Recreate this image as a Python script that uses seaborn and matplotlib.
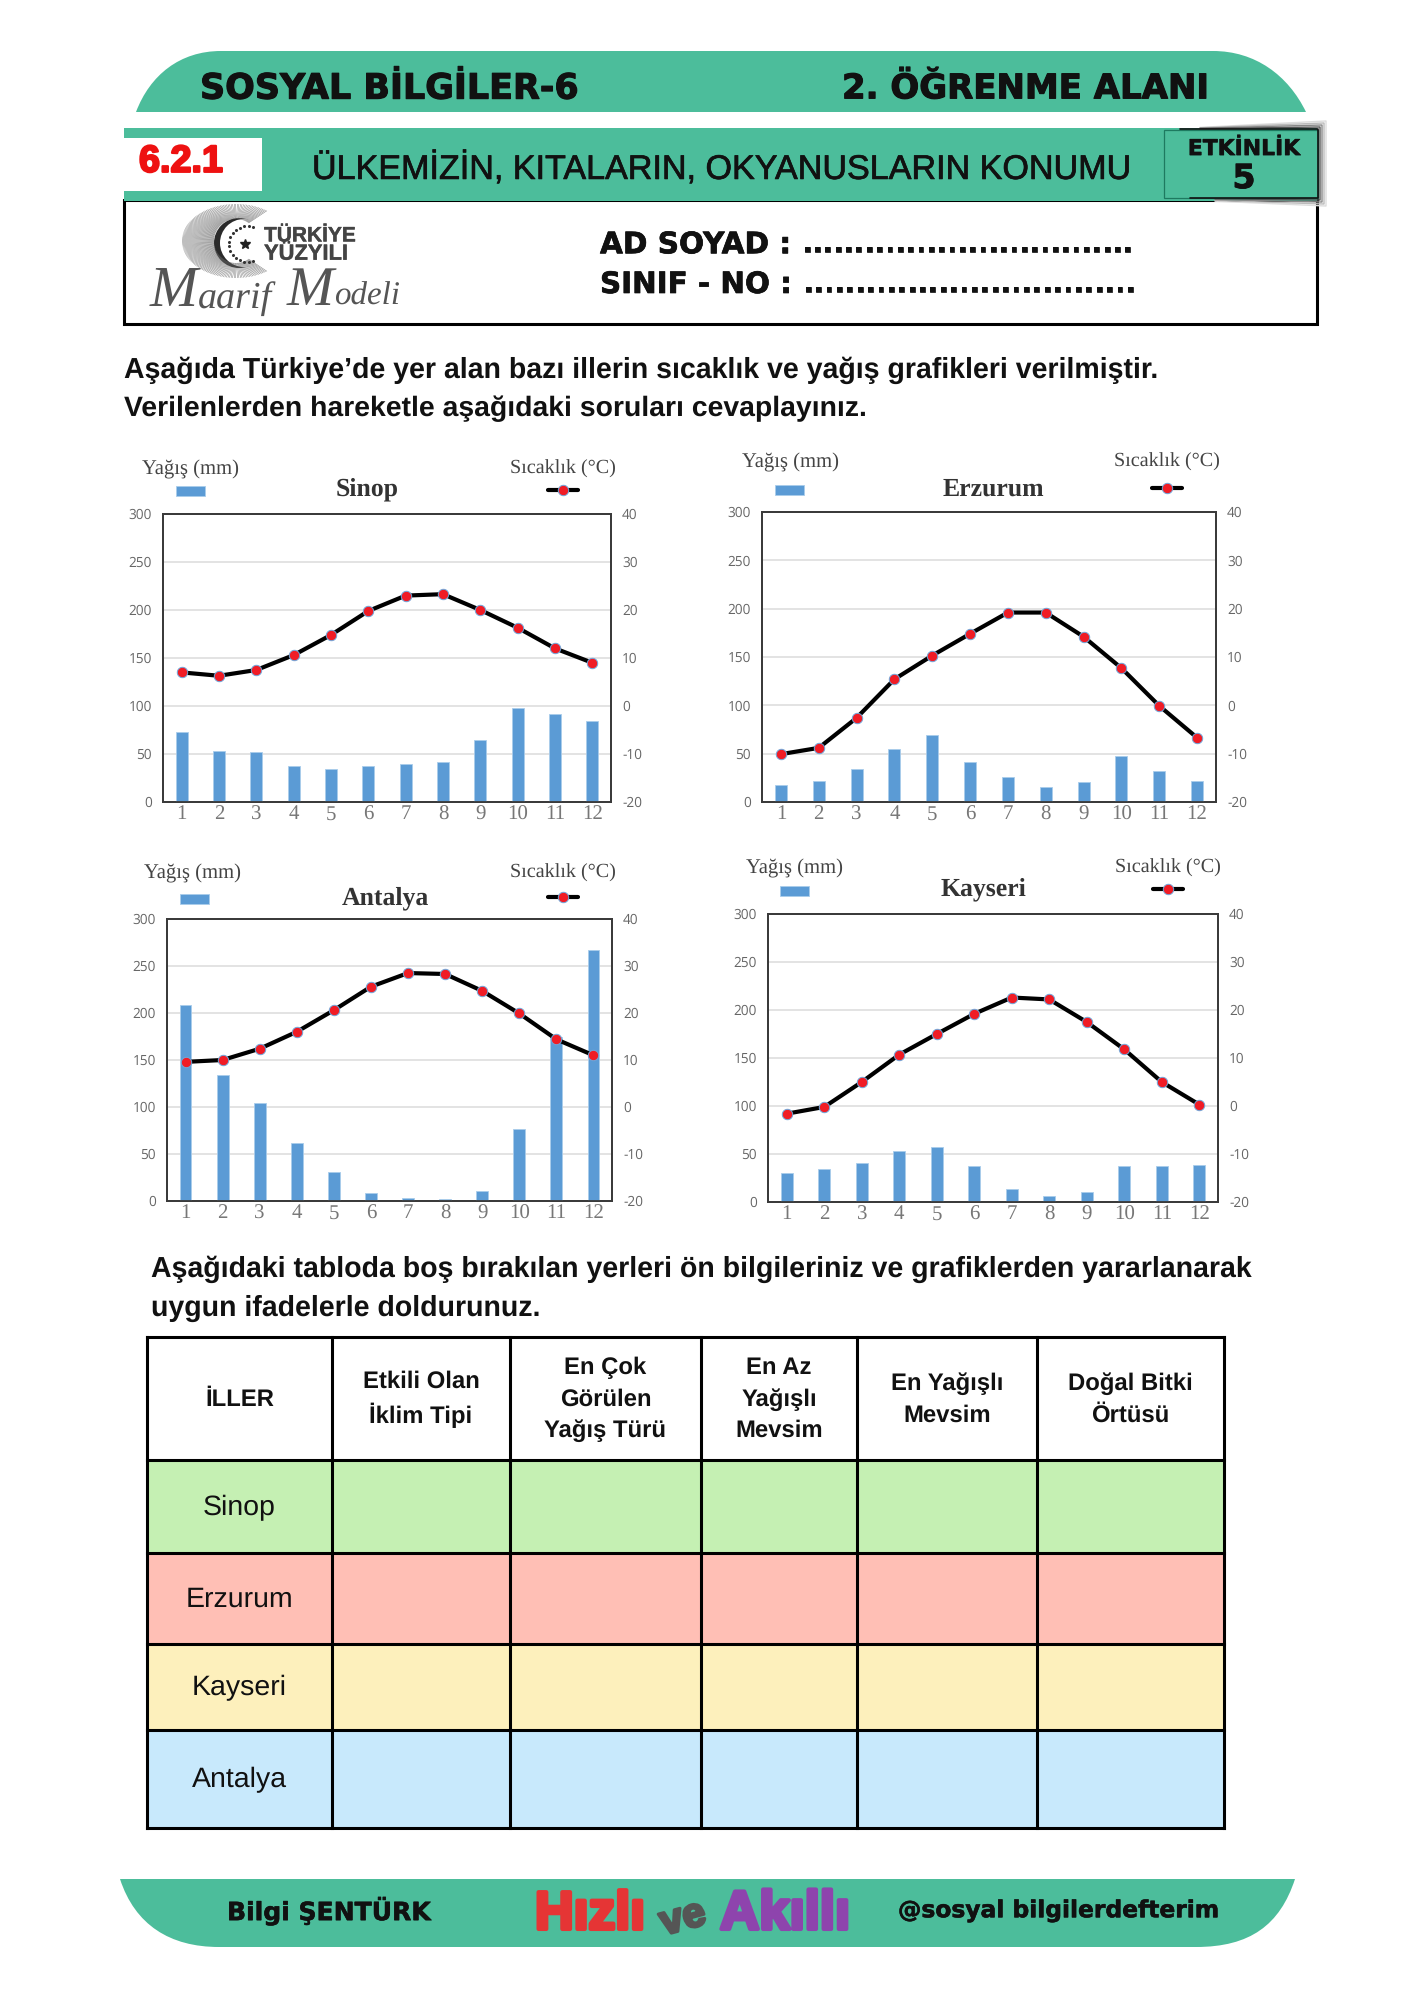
import numpy as np
import pandas as pd
import matplotlib
matplotlib.use("Agg")
import matplotlib.pyplot as plt
import matplotlib.patheffects as pe
from matplotlib.patches import PathPatch, Rectangle, Circle
from matplotlib.path import Path
from matplotlib.collections import LineCollection
import seaborn as sns

# ---------- data ----------
months = [1, 2, 3, 4, 5, 6, 7, 8, 9, 10, 11, 12]
rain_sinop = [73, 53, 52, 37, 34, 37, 40, 42, 65, 98, 92, 84]
temp_sinop = [7.0, 6.3, 7.5, 10.6, 14.8, 19.8, 23.0, 23.3, 20.0, 16.3, 12.0, 9.0]
rain_erzurum = [18, 22, 34, 55, 69, 41, 26, 16, 21, 48, 32, 22]
temp_erzurum = [-10.1, -8.8, -2.6, 5.4, 10.3, 14.8, 19.2, 19.2, 14.2, 7.7, -0.1, -6.7]
rain_antalya = [208, 134, 104, 62, 31, 9, 3, 2, 11, 77, 175, 267]
temp_antalya = [9.6, 10.0, 12.4, 16.0, 20.6, 25.6, 28.5, 28.3, 24.7, 19.9, 14.4, 11.0]
rain_kayseri = [30, 34, 41, 53, 57, 37, 14, 6, 10, 37, 38, 39]
temp_kayseri = [-1.6, -0.2, 5.0, 10.7, 15.0, 19.2, 22.6, 22.2, 17.5, 11.8, 5.0, 0.3]
rain_ticks = [0, 50, 100, 150, 200, 250, 300]
temp_ticks = [-20, -10, 0, 10, 20, 30, 40]

table_columns = ["İLLER", "Etkili Olan\nİklim Tipi", "En Çok\nGörülen\nYağış Türü",
                 "En Az\nYağışlı\nMevsim", "En Yağışlı\nMevsim", "Doğal Bitki\nÖrtüsü"]
table_rows = ["Sinop", "Erzurum", "Kayseri", "Antalya"]

# ---------- layout (pixels of the 1414x2000 page) ----------
W, H = 1414, 2000
GREEN = "#4CBD9B"
charts = [
    dict(name="Sinop", rain=rain_sinop, temp=temp_sinop, box=(163, 514, 611, 802),
         yag=(190, 467), sw=(176, 491), title=(367, 487), sic=(563, 467), ln=(563, 490)),
    dict(name="Erzurum", rain=rain_erzurum, temp=temp_erzurum, box=(762, 512, 1216, 802),
         yag=(790, 460), sw=(775, 490), title=(993, 487), sic=(1167, 460), ln=(1167, 488)),
    dict(name="Antalya", rain=rain_antalya, temp=temp_antalya, box=(167, 919, 612, 1201),
         yag=(193, 871), sw=(180, 899), title=(385, 896), sic=(563, 871), ln=(563, 897)),
    dict(name="Kayseri", rain=rain_kayseri, temp=temp_kayseri, box=(768, 914, 1218, 1202),
         yag=(794, 866), sw=(780, 891), title=(983, 887), sic=(1168, 866), ln=(1168, 889)),
]
col_x = [147, 332, 510, 701, 857, 1037, 1224]
row_y = [1337, 1460, 1553, 1644, 1730, 1828]
row_colors = ["#C5F0B3", "#FFBFB5", "#FDF0BC", "#C8E9FC"]

sns.set_theme(style="white")
plt.rcParams["font.family"] = ["Liberation Sans", "DejaVu Sans"]
plt.rcParams["text.hinting"] = "no_hinting"
plt.rcParams["text.hinting_factor"] = 8
fig = plt.figure(figsize=(W / 100, H / 100), dpi=100, facecolor="white")
bg = fig.add_axes([0, 0, 1, 1], zorder=0)
bg.set_xlim(0, W)
bg.set_ylim(H, 0)
bg.axis("off")
renderer = fig.canvas.get_renderer()


def put(x, y, s, width=None, size=12, family="Liberation Sans", weight="normal", color="black",
        ha="left", stroke=0.0, style="normal", rotation=0, linespacing=1.2):
    t = bg.text(x, y + 2, s, fontsize=size, family=family, weight=weight, color=color, ha=ha,
                va="center", style=style, rotation=rotation, linespacing=linespacing)
    if width:
        for _ in range(3):
            t.set_fontsize(t.get_fontsize() * width / t.get_window_extent(renderer).width)
    if stroke:
        t.set_path_effects([pe.withStroke(linewidth=stroke, foreground=color)])
    return t


# ---------- header ----------
C = Path.CURVE4
dome = Path([(136, 112), (150, 75), (180, 51), (221, 51), (1213, 51), (1255, 51), (1288, 75), (1306, 112), (136, 112)],
            [Path.MOVETO, C, C, C, Path.LINETO, C, C, C, Path.CLOSEPOLY])
bg.add_patch(PathPatch(dome, fc=GREEN, ec="none"))
put(200, 87, "SOSYAL BİLGİLER-6", width=378, family="DejaVu Sans", weight="bold", color="#111111", stroke=0.8)
put(842, 87, "2. ÖĞRENME ALANI", width=367, family="DejaVu Sans", weight="bold", color="#111111", stroke=0.8)

bg.add_patch(Rectangle((124, 200), 1193, 124, fc="white", ec="black", lw=2.2))
bg.add_patch(Rectangle((124, 128), 1193, 73, fc=GREEN, ec="none"))
bg.add_patch(Rectangle((124, 138), 138, 53, fc="white", ec="none"))
put(139, 160, "6.2.1", width=84, weight="bold", color="#EE1111", stroke=1.6)
put(312, 167, "ÜLKEMİZİN, KITALARIN, OKYANUSLARIN KONUMU", width=818, color="#111111", stroke=0.5)

for k, c in zip([4, 3, 2, 1], ["#DDDDDD", "#BBBBBB", "#888888", "#555555"]):
    bg.plot([1200, 1318 + 2 * k, 1318 + 2 * k, 1215], [129 - k * 0.4, 129 - 2 * k, 198 + 2 * k, 198 + k * 0.8],
            color=c, lw=1.0, zorder=2)
bg.add_patch(Rectangle((1164, 130), 154, 68, fc=GREEN, ec="#1E7A60", lw=0.9, zorder=3))
bg.plot([1180, 1318, 1318, 1190], [129, 129, 198, 198], color="#111111", lw=1.2, zorder=3)
put(1244, 147, "ETKİNLİK", width=112, family="DejaVu Sans", weight="bold", color="#111111", ha="center", stroke=0.4).set_zorder(4)
put(1244, 177, "5", size=24, family="DejaVu Sans", weight="bold", color="#111111", ha="center", stroke=0.6).set_zorder(4)

put(600, 243, "AD SOYAD :", width=191, family="DejaVu Sans", weight="bold", color="#111111", stroke=0.5)
put(802, 243, "................................", width=331, family="DejaVu Sans", weight="bold", color="#111111", stroke=0.5)
put(600, 283, "SINIF - NO :", width=192, family="DejaVu Sans", weight="bold", color="#111111", stroke=0.5)
put(803, 283, "................................", width=332, family="DejaVu Sans", weight="bold", color="#111111", stroke=0.5)

# logo
ang = np.deg2rad(np.linspace(55, 305, 150))
segs = [[(236 + 22 * np.cos(a), 241 + 22 * np.sin(a)), (236 + 54 * np.cos(a), 241 + 37 * np.sin(a))] for a in ang]
bg.add_collection(LineCollection(segs, colors="#666666", linewidths=0.3))
bg.add_patch(Circle((239, 243), 25, fc="#2A2A2A", ec="none"))
bg.add_patch(Circle((244, 243), 24, fc="white", ec="none"))
dot_ang = np.deg2rad(np.linspace(70, 290, 16))
bg.plot(247 + 18 * np.cos(dot_ang), 244 + 18 * np.sin(dot_ang), ls="none", marker="o", ms=1.2, color="#333333")
bg.plot([245], [244], marker="*", ms=7, color="#222222")
put(264, 234, "TÜRKİYE", width=92, weight="bold", color="#444444", stroke=0.3)
put(264, 252, "YÜZYILI", width=84, weight="bold", color="#444444", stroke=0.3)
sc = dict(family="Liberation Serif", style="italic", color="#555555")
put(150, 290, "M", width=48, **sc)
put(198, 297, "aarif", width=74, **sc)
put(287, 290, "M", width=47, **sc)
put(334, 295, "odeli", width=66, **sc)

# ---------- paragraphs ----------
put(124, 368, "Aşağıda Türkiye’de yer alan bazı illerin sıcaklık ve yağış grafikleri verilmiştir.", width=1034, weight="bold", color="#111111")
put(124, 407, "Verilenlerden hareketle aşağıdaki soruları cevaplayınız.", width=744, weight="bold", color="#111111")
put(151, 1267, "Aşağıdaki tabloda boş bırakılan yerleri ön bilgileriniz ve grafiklerden yararlanarak", width=1101, weight="bold", color="#111111")
put(151, 1306, "uygun ifadelerle doldurunuz.", width=390, weight="bold", color="#111111")


# ---------- charts ----------
def draw_chart(c):
    x0, y0, x1, y1 = c["box"]
    ax = fig.add_axes([x0 / W, 1 - y1 / H, (x1 - x0) / W, (y1 - y0) / H], zorder=2)
    df = pd.DataFrame({"month": months, "rain": c["rain"], "temp": c["temp"]})
    sns.barplot(data=df, x="month", y="rain", ax=ax, color="#5B9BD5", width=0.32, saturation=1,
                edgecolor="#A9CCEB", linewidth=0.6, zorder=3)
    ax.set_xlim(-0.5, 11.5)
    ax.set_ylim(0, 300)
    ax.set_yticks(rain_ticks)
    ax.set_yticklabels(rain_ticks, family="Open Sans", fontsize=9.8, color="#666666")
    ax.set_xticks(range(12))
    ax.set_xticklabels(months, family="Liberation Serif", fontsize=15, color="#777777")
    ax.tick_params(axis="x", length=0, pad=2)
    ax.tick_params(axis="y", length=0, pad=8)
    ax.set_xlabel("")
    ax.set_ylabel("")
    ax.yaxis.grid(True, color="#E3E3E3", lw=1.4, zorder=0)
    ax.xaxis.grid(False)
    ax.set_axisbelow(True)
    ax2 = ax.twinx()
    ax2.set_zorder(ax.get_zorder() + 1)
    df["pos"] = np.arange(12)
    sns.lineplot(data=df, x="pos", y="temp", ax=ax2, color="black", lw=3.0, marker="o", ms=7.5,
                 markerfacecolor="#F01C25", markeredgecolor="#6FA8DC", markeredgewidth=0.7, zorder=5)
    ax2.set_xlim(-0.5, 11.5)
    ax2.set_ylim(-20, 40)
    ax2.set_yticks(temp_ticks)
    ax2.set_yticklabels(temp_ticks, family="Open Sans", fontsize=9.8, color="#666666")
    ax2.tick_params(axis="y", length=0, pad=8)
    ax2.set_ylabel("")
    ax2.grid(False)
    for a in (ax, ax2):
        for s in a.spines.values():
            s.set_color("#3A3A3A")
            s.set_linewidth(1.3)

    put(c["yag"][0], c["yag"][1], "Yağış (mm)", width=97, family="Liberation Serif", color="#444444", ha="center")
    put(c["sic"][0], c["sic"][1], "Sıcaklık (°C)", width=106, family="Liberation Serif", color="#444444", ha="center")
    put(c["title"][0], c["title"][1], c["name"], size=18.5, family="Liberation Serif", weight="bold", color="#333333", ha="center")
    bg.add_patch(Rectangle((c["sw"][0], c["sw"][1] - 5), 29, 10, fc="#5B9BD5", ec="#A9CCEB", lw=0.6))
    lx, ly = c["ln"]
    bg.plot([lx - 15, lx + 15], [ly, ly], color="black", lw=3.0)
    bg.plot([lx], [ly], marker="o", ms=7.5, mfc="#F01C25", mec="#6FA8DC", mew=0.7)


for chart in charts:
    draw_chart(chart)

# ---------- table ----------
for r in range(len(table_rows)):
    bg.add_patch(Rectangle((col_x[0], row_y[r + 1]), col_x[-1] - col_x[0], row_y[r + 2] - row_y[r + 1],
                           fc=row_colors[r], ec="none"))
    put((col_x[0] + col_x[1]) / 2, (row_y[r + 1] + row_y[r + 2]) / 2 - 1, table_rows[r], size=20.5, color="#111111", ha="center")
for c_i, label in enumerate(table_columns):
    put((col_x[c_i] + col_x[c_i + 1]) / 2, (row_y[0] + row_y[1]) / 2 - 1, label, size=17.2, weight="bold",
        color="#111111", ha="center", linespacing=1.5).set_multialignment("center")
for x in col_x:
    bg.plot([x, x], [row_y[0], row_y[-1]], color="black", lw=2.2, solid_capstyle="projecting")
for y in row_y:
    bg.plot([col_x[0], col_x[-1]], [y, y], color="black", lw=2.2, solid_capstyle="projecting")

# ---------- footer ----------
foot = Path([(120, 1879), (135, 1925), (170, 1947), (219, 1947), (1196, 1947), (1250, 1947), (1280, 1925), (1295, 1879), (120, 1879)],
            [Path.MOVETO, C, C, C, Path.LINETO, C, C, C, Path.CLOSEPOLY])
bg.add_patch(PathPatch(foot, fc=GREEN, ec="none"))
put(227, 1909, "Bilgi ŞENTÜRK", width=204, family="DejaVu Sans", weight="bold", color="#111111", stroke=0.4)
put(898, 1909, "@sosyal bilgilerdefterim", width=322, family="DejaVu Sans", weight="bold", color="#111111", stroke=0.4)
put(535, 1913, "Hızlı", width=110, weight="bold", color="#E53535", stroke=3.0)
put(656, 1917, "ve", width=54, weight="bold", color="#555555", stroke=2.2, rotation=15)
put(720, 1913, "Akıllı", width=130, weight="bold", color="#8E44AD", stroke=3.0)

bg.set_xlim(0, W)
bg.set_ylim(H, 0)
fig.savefig("out.png", dpi=100, facecolor="white")
